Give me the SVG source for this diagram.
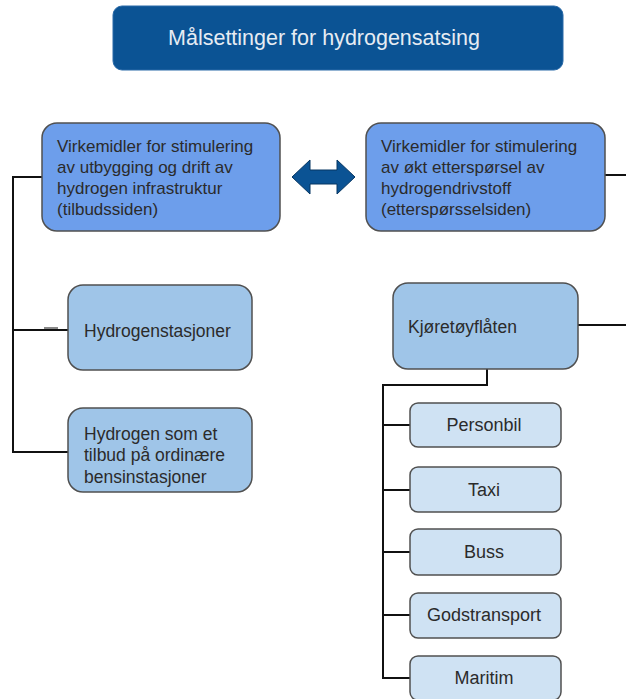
<svg xmlns="http://www.w3.org/2000/svg" width="626" height="699" viewBox="0 0 626 699">
<style>
text{font-family:"Liberation Sans",Arial,sans-serif;fill:#2b2b2b}
.title{fill:#e6ecf3;font-size:21.5px}
.main rect{fill:#6d9eeb;stroke:#505050;stroke-width:1.5}
.sub rect{fill:#9fc5e8;stroke:#505050;stroke-width:1.5}
.small rect{fill:#cfe2f3;stroke:#505050;stroke-width:1.5}
.mt{font-size:17px}
.st{font-size:17.5px}
.sm{font-size:18px;text-anchor:middle}
.conn path{fill:none;stroke:#111;stroke-width:2}
</style>
<rect width="626" height="699" fill="#ffffff"/>
<g id="title">
<rect x="113" y="6" width="450" height="64" rx="9" fill="#0b5394" stroke="#2a6aa8" stroke-width="1"/>
<text class="title" x="324" y="45" text-anchor="middle">Målsettinger for hydrogensatsing</text>
</g>
<g class="conn" id="connectors">
<path d="M42,177 H13 V452 H68"/>
<path d="M13,330 H68"/>
<path d="M44,328 H58" stroke="#555" stroke-width="1.5" opacity="0.5"/>
<path d="M605,175 H626"/>
<path d="M578,325 H626"/>
<path d="M487,369 V385 H383 V678 H410"/>
<path d="M383,425 H410"/>
<path d="M383,490 H410"/>
<path d="M383,552 H410"/>
<path d="M383,615 H410"/>
</g>
<g id="arrow">
<polygon points="292,177 310,160 310,170 337,170 337,160 355,177 337,194 337,184 310,184 310,194" fill="#0b5394" stroke="#073763" stroke-width="1"/>
</g>
<g id="supply" class="main">
<rect x="42" y="123" width="238" height="108" rx="15"/>
<text class="mt" x="57"><tspan x="57" y="152">Virkemidler for stimulering</tspan><tspan x="57" y="173">av utbygging og drift av</tspan><tspan x="57" y="194">hydrogen infrastruktur</tspan><tspan x="57" y="215">(tilbudssiden)</tspan></text>
</g>
<g id="demand" class="main">
<rect x="366" y="123" width="239" height="108" rx="15"/>
<text class="mt" x="381"><tspan x="381" y="152">Virkemidler for stimulering</tspan><tspan x="381" y="173">av økt etterspørsel av</tspan><tspan x="381" y="194">hydrogendrivstoff</tspan><tspan x="381" y="215">(etterspørsselsiden)</tspan></text>
</g>
<g id="stasjoner" class="sub">
<rect x="68" y="285" width="184" height="85" rx="15"/>
<text class="st" x="84" y="337">Hydrogenstasjoner</text>
</g>
<g id="bensin" class="sub">
<rect x="68" y="408" width="184" height="84" rx="15"/>
<text class="st" x="84"><tspan x="84" y="440">Hydrogen som et</tspan><tspan x="84" y="461">tilbud på ordinære</tspan><tspan x="84" y="483">bensinstasjoner</tspan></text>
</g>
<g id="kjoretoy" class="sub">
<rect x="393" y="283" width="185" height="86" rx="15"/>
<text class="st" x="408" y="333">Kjøretøyflåten</text>
</g>
<g id="personbil" class="small">
<rect x="410" y="403" width="151" height="44" rx="8"/>
<text class="sm" x="484" y="431">Personbil</text>
</g>
<g id="taxi" class="small">
<rect x="410" y="467" width="151" height="45" rx="8"/>
<text class="sm" x="484" y="496">Taxi</text>
</g>
<g id="buss" class="small">
<rect x="410" y="529" width="151" height="46" rx="8"/>
<text class="sm" x="484" y="558">Buss</text>
</g>
<g id="godstransport" class="small">
<rect x="410" y="593" width="151" height="45" rx="8"/>
<text class="sm" x="484" y="621">Godstransport</text>
</g>
<g id="maritim" class="small">
<rect x="410" y="656" width="151" height="44" rx="8"/>
<text class="sm" x="484" y="684">Maritim</text>
</g>
</svg>
